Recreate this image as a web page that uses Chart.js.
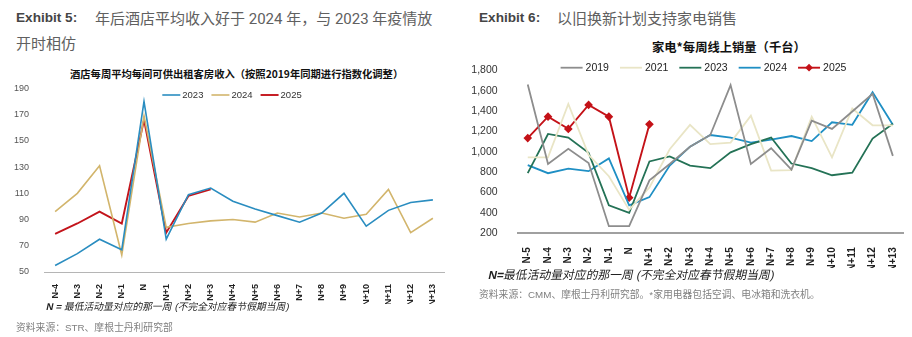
<!DOCTYPE html>
<html>
<head>
<meta charset="utf-8">
<script src="https://cdn.jsdelivr.net/npm/chart.js@4/dist/chart.umd.min.js"></script>
<style>
  html, body { margin: 0; padding: 0; background: #fff; }
  body { width: 912px; height: 337px; position: relative; overflow: hidden;
         font-family: "Liberation Sans", "Noto Sans CJK SC", sans-serif; }
  .abs { position: absolute; white-space: nowrap; }
  .exh { font-weight: bold; color: #454545; font-size: 13.6px; }
  .head { color: #606060; font-size: 15px; font-family: "Roboto", "Noto Sans CJK SC", sans-serif; }
  .ctitle { font-weight: bold; color: #111; font-family: "Noto Sans CJK SC", sans-serif; }
  .note { color: #222; font-family: "Liberation Sans", "Noto Sans CJK SC", sans-serif;
          transform: skewX(-12deg); transform-origin: left bottom; }
  .src { color: #808080; font-family: "Liberation Sans", "Noto Sans CJK SC", sans-serif; }
  canvas { position: absolute; }
</style>
</head>
<body>
  <div class="abs exh" style="left:16px; top:10px;">Exhibit 5:</div>
  <div class="abs head" style="left:95px; top:7px;">年后酒店平均收入好于 2024 年，与 2023 年疫情放</div>
  <div class="abs head" style="left:16px; top:32px;">开时相仿</div>
  <div class="abs ctitle" style="left:70px; top:66px; font-size:10.3px;">酒店每周平均每间可供出租客房收入（按照2019年同期进行指数化调整）</div>

  <div class="abs exh" style="left:479px; top:10px;">Exhibit 6:</div>
  <div class="abs head" style="left:557px; top:7px;">以旧换新计划支持家电销售</div>
  <div class="abs ctitle" style="left:652px; top:38px; font-size:12.3px;">家电*每周线上销量（千台）</div>

  <canvas id="hotel" width="460" height="228" style="left:0; top:76px; width:460px; height:228px;"></canvas>
  <canvas id="appliance" width="452" height="216" style="left:460px; top:52px; width:452px; height:216px;"></canvas>

  <div class="abs note" style="left:45px; top:299px; font-size:9.8px;"><b>N = </b>最低活动量对应的那一周 (不完全对应春节假期当周)</div>
  <div class="abs src" style="left:16px; top:320px; font-size:9.8px;">资料来源：STR、摩根士丹利研究部</div>

  <div class="abs note" style="left:487px; top:265px; font-size:11.8px;"><b>N=</b>最低活动量对应的那一周 (不完全对应春节假期当周)</div>
  <div class="abs src" style="left:479px; top:287px; font-size:9.8px;">资料来源：CMM、摩根士丹利研究部。*家用电器包括空调、电冰箱和洗衣机。</div>

<script>
// ---- Hotel RevPAR index (indexed to same week of 2019) ----
const hotelWeeks = ['N-4','N-3','N-2','N-1','N','N+1','N+2','N+3','N+4','N+5','N+6','N+7','N+8','N+9','N+10','N+11','N+12','N+13'];
const hotel2023 = [55, 64, 75, 67, 180, 75, 109, 114, 104, 98, 93, 88, 95, 110, 85, 97, 103, 105];
const hotel2024 = [96, 110, 131, 63, 169, 84, 87, 89, 90, 88, 95, 92, 95, 91, 94, 113, 80, 91];
const hotel2025 = [79, 87, 96, 87, 166, 80, 108, 113, null, null, null, null, null, null, null, null, null, null];
const hotelTicks = [50, 70, 90, 110, 130, 150, 170, 190];

// ---- Weekly online appliance sales (thousand units) ----
const salesWeeks = ['N-5','N-4','N-3','N-2','N-1','N','N+1','N+2','N+3','N+4','N+5','N+6','N+7','N+8','N+9','N+10','N+11','N+12','N+13'];
const sales2019 = [1660, 880, 1030, 890, 270, 270, 720, 880, 1050, 1165, 1655, 880, 1035, 825, 1305, 1225, 1395, 1570, 960];
const sales2021 = [945, 945, 1470, 970, 760, 430, 650, 1025, 1265, 1075, 1090, 1355, 815, 820, 1345, 945, 1425, 1260, 1260];
const sales2023 = [790, 1175, 1140, 990, 475, 400, 905, 955, 865, 840, 995, 1075, 1140, 885, 840, 770, 795, 1130, 1275];
const sales2024 = [870, 790, 835, 810, 935, 475, 555, 865, 1050, 1165, 1140, 1090, 1120, 1155, 1105, 1290, 1265, 1585, 1265];
const sales2025 = [1135, 1345, 1225, 1460, 1345, 550, 1270, null, null, null, null, null, null, null, null, null, null, null, null];
const salesTicks = [200, 400, 600, 800, 1000, 1200, 1400, 1600, 1800];

const NARROW = '"Liberation Sans Narrow", "Arial Narrow", "Liberation Sans", sans-serif';

// Legend drawn as short line swatches followed by the series name
const lineLegend = {
  id: 'lineLegend',
  afterDraw(chart, args, o) {
    const ctx = chart.ctx;
    const sets = chart.data.datasets;
    ctx.save();
    ctx.font = o.font;
    ctx.textBaseline = 'middle';
    const widths = sets.map(d => o.lineLen + o.gap + ctx.measureText(d.label).width);
    const total = widths.reduce((a, b) => a + b, 0) + o.spacing * (sets.length - 1);
    let x = o.centerX - total / 2;
    sets.forEach((d, i) => {
      ctx.strokeStyle = d.borderColor;
      ctx.lineWidth = d.borderWidth;
      ctx.beginPath();
      ctx.moveTo(x, o.y);
      ctx.lineTo(x + o.lineLen, o.y);
      ctx.stroke();
      if (d.pointRadius > 0) {
        ctx.fillStyle = d.pointBackgroundColor;
        Chart.helpers.drawPoint(ctx, { pointStyle: d.pointStyle, radius: d.pointRadius - 0.5, borderWidth: 1, rotation: 0 }, x + o.lineLen / 2, o.y);
      }
      ctx.fillStyle = o.color;
      ctx.fillText(d.label, x + o.lineLen + o.gap, o.y + 0.5);
      x += widths[i] + o.spacing;
    });
    ctx.restore();
  }
};

function series(label, data, color, width, extra) {
  return Object.assign({
    label, data,
    borderColor: color, backgroundColor: color,
    borderWidth: width, pointRadius: 0, tension: 0,
    spanGaps: false
  }, extra || {});
}

new Chart(document.getElementById('hotel'), {
  type: 'line',
  data: {
    labels: hotelWeeks,
    datasets: [
      series('2023', hotel2023, '#2a8dc0', 1.6),
      series('2024', hotel2024, '#d2b56c', 1.6),
      series('2025', hotel2025, '#c3141b', 1.9)
    ]
  },
  options: {
    responsive: false, animation: false, devicePixelRatio: 1,
    layout: { padding: { top: 10, right: 16, left: 0, bottom: 0 } },
    plugins: {
      legend: { display: false }, tooltip: { enabled: false },
      lineLegend: { centerX: 232, y: 19, lineLen: 18, gap: 2, spacing: 8, font: '9.5px ' + NARROW, color: '#333' }
    },
    scales: {
      x: {
        offset: true,
        grid: { display: false },
        border: { display: true, color: '#b5b5b5', width: 1 },
        ticks: { autoSkip: false, minRotation: 90, maxRotation: 90, padding: 4, color: '#222',
                 font: { size: 9, family: NARROW, weight: 'bold' } },
        afterFit(s) { s.height = 32; }
      },
      y: {
        min: 50, max: 190,
        grid: { display: false },
        border: { display: false },
        afterBuildTicks(s) { s.ticks = hotelTicks.map(v => ({ value: v })); },
        ticks: { padding: 7, color: '#555', font: { size: 9, family: NARROW } },
        afterFit(s) { s.width = 44; }
      }
    }
  },
  plugins: [lineLegend]
});

new Chart(document.getElementById('appliance'), {
  type: 'line',
  data: {
    labels: salesWeeks,
    datasets: [
      series('2019', sales2019, '#8d8d8d', 1.8),
      series('2021', sales2021, '#e9e5c6', 1.8),
      series('2023', sales2023, '#247256', 1.8),
      series('2024', sales2024, '#1f8fc4', 1.8),
      series('2025', sales2025, '#c41218', 1.9,
             { pointRadius: 3, pointStyle: 'rectRot', pointBackgroundColor: '#c41218', pointBorderColor: '#c41218' })
    ]
  },
  options: {
    responsive: false, animation: false, devicePixelRatio: 1,
    layout: { padding: { top: 10.3, right: 9, left: 0, bottom: 0 } },
    plugins: {
      legend: { display: false }, tooltip: { enabled: false },
      lineLegend: { centerX: 243.5, y: 15.7, lineLen: 22, gap: 3, spacing: 11, font: '10.5px ' + NARROW, color: '#222' }
    },
    scales: {
      x: {
        offset: true,
        grid: { display: false },
        border: { display: true, color: '#a0a0a0', width: 2 },
        ticks: { autoSkip: false, minRotation: 90, maxRotation: 90, padding: 6, color: '#222',
                 font: { size: 10, family: NARROW, weight: 'bold' } },
        afterFit(s) { s.height = 34.7; }
      },
      y: {
        min: 200, max: 1800,
        grid: { display: false },
        border: { display: false },
        afterBuildTicks(s) { s.ticks = salesTicks.map(v => ({ value: v })); },
        ticks: { padding: 12, color: '#333', font: { size: 10.5, family: NARROW },
                 callback: v => v.toLocaleString('en-US') },
        afterFit(s) { s.width = 57.6; }
      }
    }
  },
  plugins: [lineLegend]
});
</script>
</body>
</html>
